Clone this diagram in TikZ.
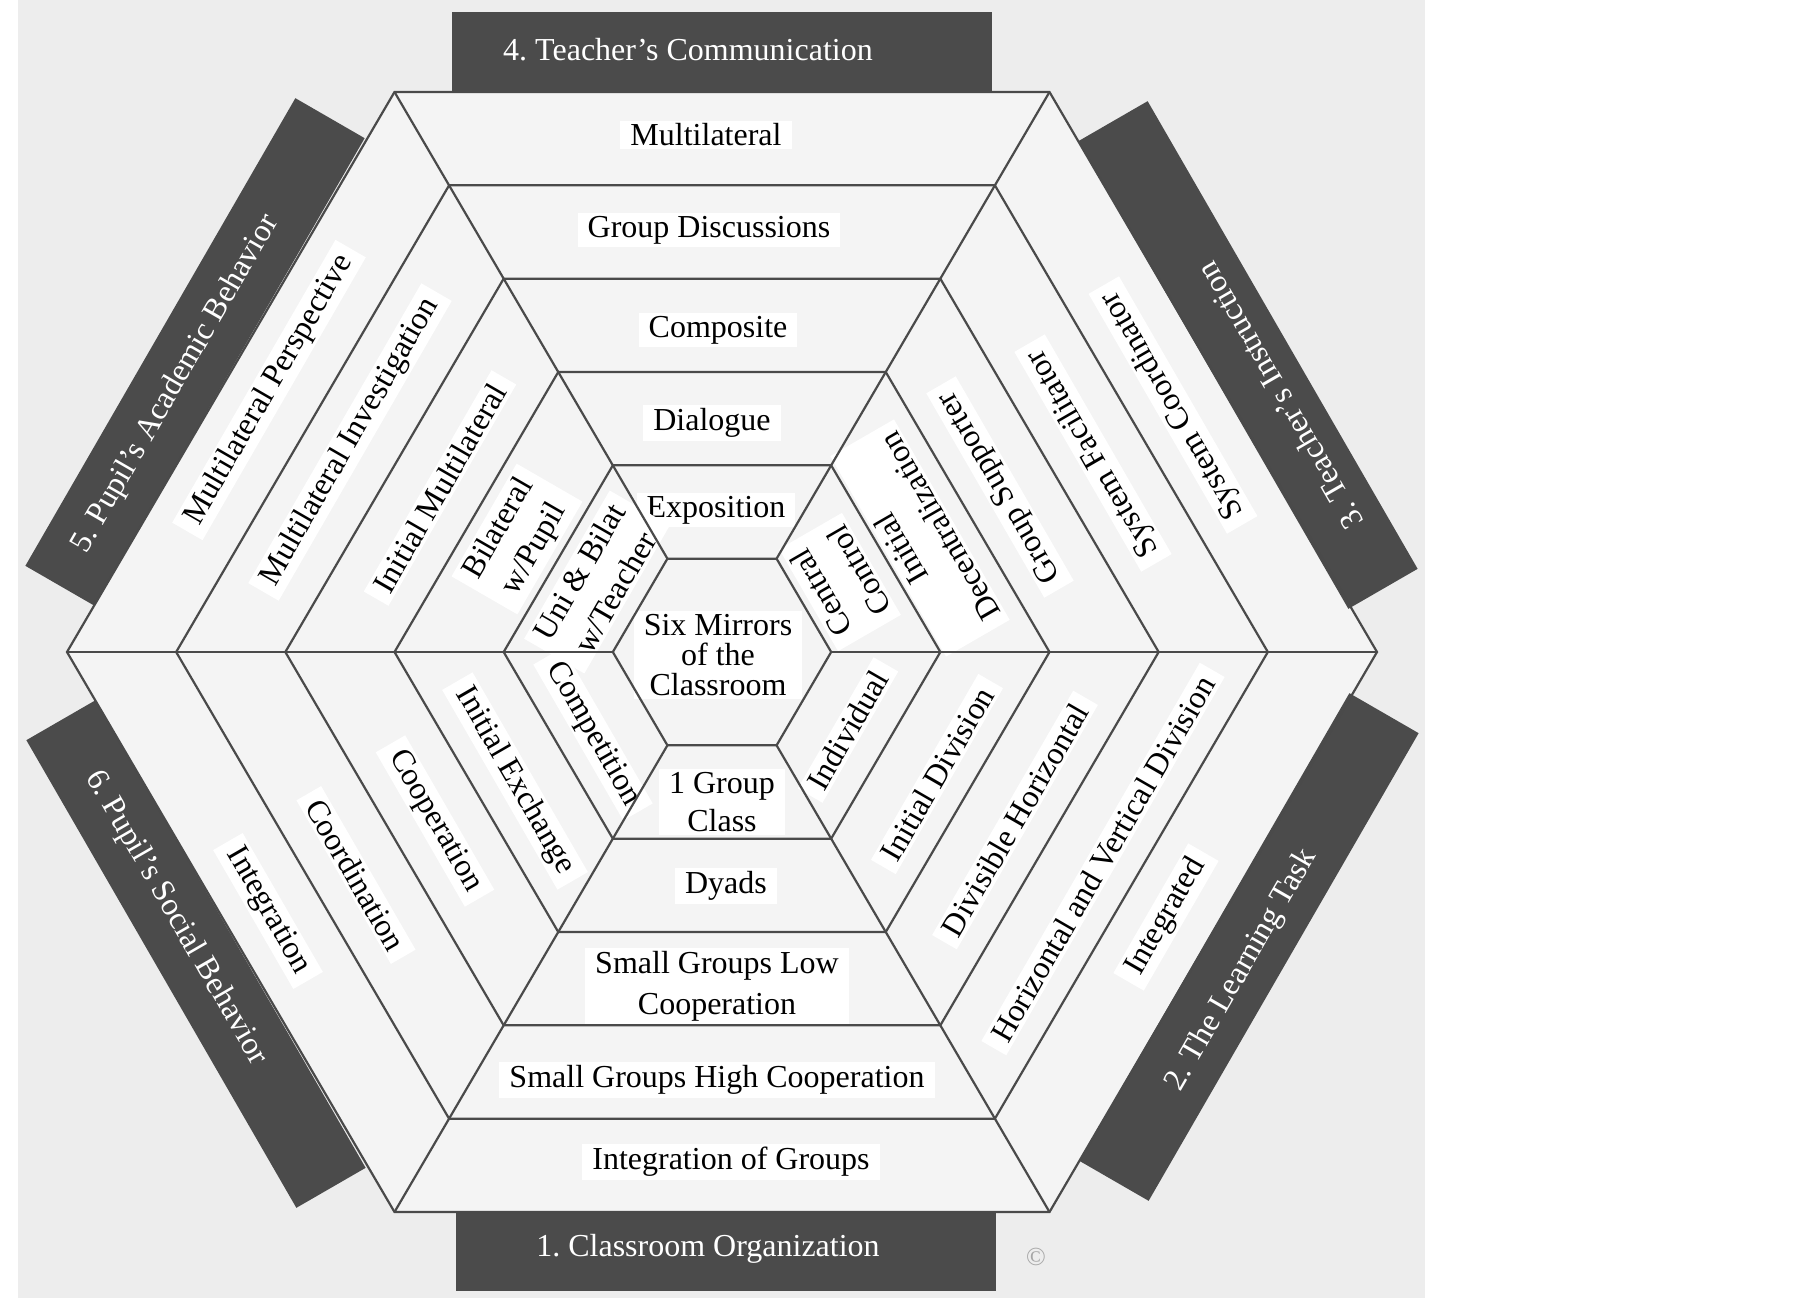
\documentclass[tikz,border=0pt]{standalone}
\usepackage{fontspec}
\setmainfont{Liberation Serif}
\frenchspacing
\definecolor{bggray}{HTML}{EDEDED}
\definecolor{hexfill}{HTML}{F4F4F4}
\definecolor{boxgray}{HTML}{4B4B4B}
\definecolor{linegray}{HTML}{4A4A4A}
\tikzset{
  lab/.style={font=\fontsize{32}{41}\selectfont, fill=white, inner xsep=10pt, inner ysep=3pt, align=center, text=black},
  boxlab/.style={font=\fontsize{32}{40}\selectfont, text=white, inner sep=0pt},
  darkbox/.style={fill=boxgray, minimum width=540pt, minimum height=80pt, inner sep=0pt},
  hexline/.style={draw=linegray, line width=2.2pt, line join=miter},
}
\begin{document}
\begin{tikzpicture}[x=1pt,y=-1pt]
\useasboundingbox (0,0) rectangle (1805,1298);
\fill[white] (0,0) rectangle (1805,1298);
\fill[bggray] (18,0) rectangle (1425,1298);
% hexagon vertices
\foreach \k in {1,...,6}{
  \coordinate (h\k-1) at ({722-109.1667*\k},652);
  \coordinate (h\k-2) at ({722-54.5833*\k},{652-93.3333*\k});
  \coordinate (h\k-3) at ({722+54.5833*\k},{652-93.3333*\k});
  \coordinate (h\k-4) at ({722+109.1667*\k},652);
  \coordinate (h\k-5) at ({722+54.5833*\k},{652+93.3333*\k});
  \coordinate (h\k-6) at ({722-54.5833*\k},{652+93.3333*\k});
}
\fill[hexfill] (h6-1) -- (h6-2) -- (h6-3) -- (h6-4) -- (h6-5) -- (h6-6) -- cycle;
% dark boxes
\node[darkbox] (b4) at (722,52) {};
\node[darkbox] (b1) at (726,1251) {};
\node[darkbox, rotate=60] (b5) at (195,352) {};
\node[darkbox, rotate=-60] (b3) at (1248,355) {};
\node[darkbox, rotate=60] (b2) at (1249,947) {};
\node[darkbox, rotate=-60] (b6) at (196,954) {};
% top sector
\node[lab] (t5) at (706,135) {Multilateral};
\node[lab] (t4) at (709,230) {Group Discussions};
\node[lab] (t3) at (718,330) {Composite};
\node[lab] (t2) at (712,423) {Dialogue};
\node[lab] (t1) at (716,510) {Exposition};
\node[lab, font=\fontsize{32}{30}\selectfont] (c) at (718,655) {Six Mirrors\\of the\\Classroom};
% bottom sector
\node[lab, font=\fontsize{32}{38}\selectfont] (o1) at (722,802) {1 Group\\Class};
\node[lab] (o2) at (726,886) {Dyads};
\node[lab] (o3) at (717,986) {Small Groups Low\\Cooperation};
\node[lab] (o4) at (717,1080) {Small Groups High Cooperation};
\node[lab] (o5) at (731,1162) {Integration of Groups};
% upper-left sector
\node[lab, rotate=60] (a1) at (597,582) {Uni \& Bilat\\w/Teacher};
\node[lab, rotate=60] (a2) at (517,539) {Bilateral\\w/Pupil};
\node[lab, rotate=60] (a3) at (440,488) {Initial Multilateral};
\node[lab, rotate=60] (a4) at (350,442) {Multilateral Investigation};
\node[lab, rotate=60] (a5) at (269,390) {Multilateral Perspective};
% upper-right sector
\node[lab, rotate=120, font=\fontsize{32}{44}\selectfont] (i1) at (840,582) {Central\\Control};
\node[lab, rotate=120, font=\fontsize{32}{45}\selectfont] (i2) at (920,538) {Initial\\Decentralization};
\node[lab, rotate=120] (i3) at (1000,487) {Group Supporter};
\node[lab, rotate=120] (i4) at (1093,453) {System Facilitator};
\node[lab, rotate=120] (i5) at (1173,405) {System Coordinator};
% lower-right sector
\node[lab, rotate=60] (l1) at (848,730) {Individual};
\node[lab, rotate=60] (l2) at (937,774) {Initial Division};
\node[lab, rotate=60] (l3) at (1015,820) {Divisible Horizontal};
\node[lab, rotate=60] (l4) at (1103,859) {Horizontal and Vertical Division};
\node[lab, rotate=60] (l5) at (1166,917) {Integrated};
% lower-left sector
\node[lab, rotate=-60] (s1) at (593,734) {Competition};
\node[lab, rotate=-60] (s2) at (515,781) {Initial Exchange};
\node[lab, rotate=-60] (s3) at (435,821) {Cooperation};
\node[lab, rotate=-60] (s4) at (356,875) {Coordination};
\node[lab, rotate=-60] (s5) at (268,911) {Integration};
% hexagon lines
\foreach \k in {1,...,6}{
  \draw[hexline] (h\k-1) -- (h\k-2) -- (h\k-3) -- (h\k-4) -- (h\k-5) -- (h\k-6) -- cycle;
}
\foreach \i in {1,...,6}{
  \draw[hexline] (h1-\i) -- (h6-\i);
}
% box labels
\node[boxlab] (L4) at (688,50) {4. Teacher’s Communication};
\node[boxlab] (L1) at (708,1249) {1. Classroom Organization};
\node[boxlab, rotate=60] (L5) at (176,384) {5. Pupil’s Academic Behavior};
\node[boxlab, rotate=120] (L3) at (1280,396) {3. Teacher’s Instruction};
\node[boxlab, rotate=60] (L2) at (1242,970) {2. The Learning Task};
\node[boxlab, rotate=-60] (L6) at (176,918) {6. Pupil’s Social Behavior};
\node[text=gray!70, font=\fontsize{26}{26}\selectfont] (cp) at (1036,1257) {©};
\end{tikzpicture}
\end{document}
